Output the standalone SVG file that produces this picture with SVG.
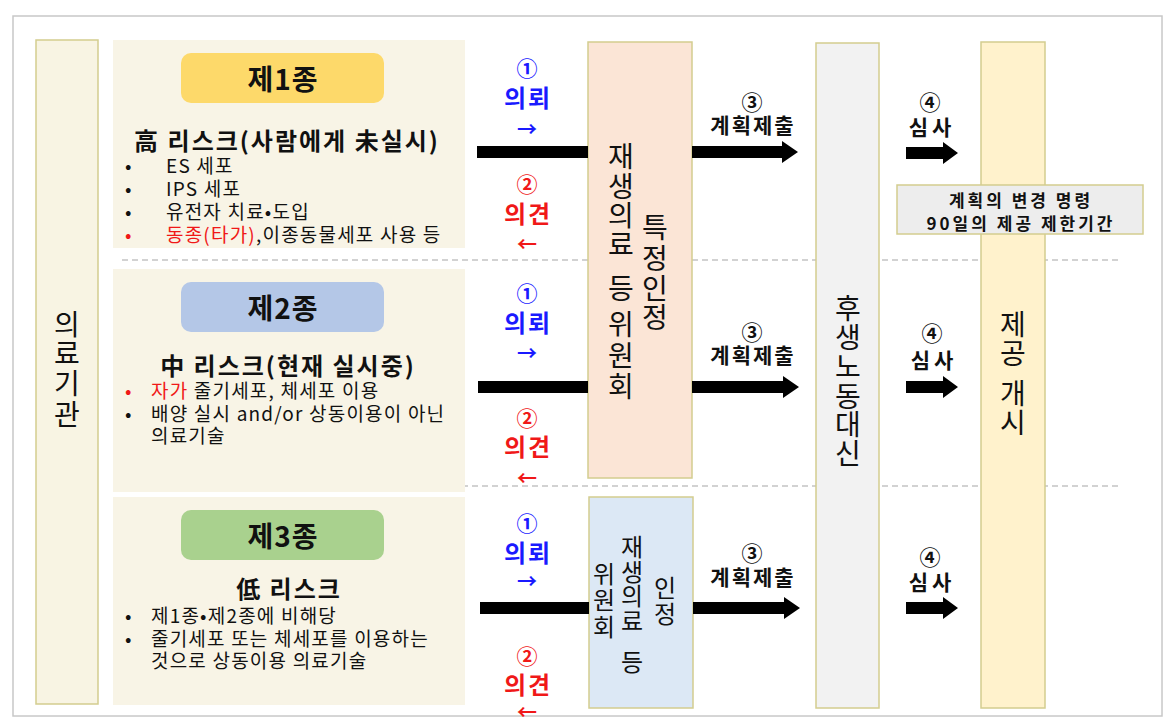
<svg xmlns="http://www.w3.org/2000/svg" width="1170" height="725" viewBox="0 0 1170 725">
<style>
text{font-family:"Noto Sans CJK KR","Noto Sans",sans-serif;fill:#111}
.c{text-anchor:middle;dominant-baseline:central}
.b{font-weight:bold}
.pill{font-size:28px;font-weight:bold;letter-spacing:1px}
.hd{font-size:24px;font-weight:bold;letter-spacing:2px}
.li{font-size:19px;letter-spacing:1.2px}
.vt{font-size:28px;text-anchor:middle;dominant-baseline:central}
.vs{font-size:24px;text-anchor:middle;dominant-baseline:central}
.num{font-size:21px;font-weight:bold}
.lab{font-size:24px;font-weight:bold;letter-spacing:2px}
.lab2{font-size:21px;font-weight:bold;letter-spacing:2px}
.lab3{font-size:21px;font-weight:bold;letter-spacing:4px}
.ar{font-size:20px;font-weight:bold}
.blue{fill:#1a1aff}
.red{fill:#f01818}
.col{stroke:#d3cd8f;stroke-width:1.5}
.pan{fill:#f8f4e6}
.dash{stroke:#c4c4c4;stroke-width:1.5;stroke-dasharray:6 4;fill:none}
.box{font-size:17px;font-weight:bold;letter-spacing:3px}
</style>
<rect x="13" y="16" width="1149" height="700" fill="#fff" stroke="#c8c8c8" stroke-width="1.5"/>

<g id="dividers">
<line class="dash" x1="122" y1="260" x2="1120" y2="260"/>
<line class="dash" x1="122" y1="486" x2="1120" y2="486"/>
</g>

<g id="iryo-kikan">
<rect class="col" x="36" y="40" width="62" height="664" fill="#f8f4e3"/>
<text class="vt"><tspan x="67" y="323">의</tspan><tspan x="67" y="352">료</tspan><tspan x="67" y="382">기</tspan><tspan x="67" y="413">관</tspan></text>
</g>

<g id="class1">
<rect class="pan" x="113" y="40" width="352" height="208"/>
<rect x="181" y="53" width="203" height="50" rx="10" fill="#fdd96a"/>
<text class="pill c" x="283" y="78">제1종</text>
<text class="hd c" x="287" y="139">高 리스크(사람에게 未실시)</text>
<text class="li"><tspan x="125" y="173">•</tspan><tspan x="166" y="173">ES 세포</tspan></text>
<text class="li"><tspan x="125" y="196">•</tspan><tspan x="166" y="196">IPS 세포</tspan></text>
<text class="li"><tspan x="125" y="219">•</tspan><tspan x="166" y="219">유전자 치료•도입</tspan></text>
<text class="li"><tspan x="125" y="242" class="red">•</tspan><tspan x="166" y="242" class="red">동종(타가)</tspan><tspan>,이종동물세포 사용 등</tspan></text>
</g>

<g id="class2">
<rect class="pan" x="113" y="269" width="352" height="223"/>
<rect x="181" y="282" width="203" height="50" rx="10" fill="#b4c7e7"/>
<text class="pill c" x="283" y="307">제2종</text>
<text class="hd c" x="288" y="364">中 리스크(현재 실시중)</text>
<text class="li"><tspan x="125" y="398" class="red">•</tspan><tspan x="151" y="398" class="red">자가</tspan><tspan> 줄기세포, 체세포 이용</tspan></text>
<text class="li"><tspan x="125" y="421">•</tspan><tspan x="151" y="421">배양 실시 and/or 상동이용이 아닌</tspan></text>
<text class="li"><tspan x="151" y="443">의료기술</tspan></text>
</g>

<g id="class3">
<rect class="pan" x="113" y="497" width="352" height="208"/>
<rect x="181" y="510" width="203" height="50" rx="10" fill="#a9d18e"/>
<text class="pill c" x="283" y="535">제3종</text>
<text class="hd c" x="289" y="587">低 리스크</text>
<text class="li"><tspan x="125" y="623">•</tspan><tspan x="151" y="623">제1종•제2종에 비해당</tspan></text>
<text class="li"><tspan x="125" y="646">•</tspan><tspan x="151" y="646">줄기세포 또는 체세포를 이용하는</tspan></text>
<text class="li"><tspan x="151" y="668">것으로 상동이용 의료기술</tspan></text>
</g>

<g id="committee-specific">
<rect class="col" x="588" y="42" width="104" height="436" fill="#fbe5d6"/>
<text class="vt"><tspan x="621" y="155">재</tspan><tspan x="621" y="185">생</tspan><tspan x="621" y="214">의</tspan><tspan x="621" y="243">료</tspan><tspan x="621" y="287">등</tspan><tspan x="621" y="323">위</tspan><tspan x="621" y="354">원</tspan><tspan x="621" y="385">회</tspan></text>
<text class="vt"><tspan x="655" y="226">특</tspan><tspan x="655" y="257">정</tspan><tspan x="655" y="287">인</tspan><tspan x="655" y="316">정</tspan></text>
</g>

<g id="committee-certified">
<rect class="col" x="589" y="497" width="104" height="211" fill="#dce8f5"/>
<text class="vs"><tspan x="632" y="545">재</tspan><tspan x="632" y="570">생</tspan><tspan x="632" y="594">의</tspan><tspan x="632" y="619">료</tspan><tspan x="632" y="660">등</tspan></text>
<text class="vs"><tspan x="604" y="572">위</tspan><tspan x="604" y="598">원</tspan><tspan x="604" y="625">회</tspan></text>
<text class="vs"><tspan x="665" y="586">인</tspan><tspan x="665" y="612">정</tspan></text>
</g>

<g id="mhlw">
<rect class="col" x="816" y="43" width="63" height="665" fill="#f2f2f2"/>
<text class="vt"><tspan x="848" y="307">후</tspan><tspan x="848" y="336">생</tspan><tspan x="848" y="365">노</tspan><tspan x="848" y="395">동</tspan><tspan x="848" y="423">대</tspan><tspan x="848" y="452">신</tspan></text>
</g>

<g id="provision-start">
<rect class="col" x="981" y="42" width="64" height="666" fill="#fff2cc"/>
<text class="vt"><tspan x="1013" y="323">제</tspan><tspan x="1013" y="352">공</tspan><tspan x="1013" y="392">개</tspan><tspan x="1013" y="421">시</tspan></text>
</g>

<g id="change-order">
<rect class="col" x="897" y="185" width="246" height="49" fill="#ededed"/>
<text class="c box" x="1021" y="199">계획의 변경 명령</text>
<text class="c box" x="1021" y="222">90일의 제공 제한기간</text>
</g>

<g id="connectors">
<rect x="477" y="146" width="111" height="12" fill="#000"/>
<rect x="478" y="381" width="110" height="12" fill="#000"/>
<rect x="480" y="602" width="109" height="12" fill="#000"/>
<path d="M692 146H782V141L798 152L782 163V158H692Z" fill="#000"/>
<path d="M692 381H783V376L799 387L783 398V393H692Z" fill="#000"/>
<path d="M693 602H784V597L800 608L784 619V614H693Z" fill="#000"/>
<path d="M906 147H943V142L958 153L943 164V159H906Z" fill="#000"/>
<path d="M906 381H943V376L958 387L943 398V393H906Z" fill="#000"/>
<path d="M906 602H943V597L958 608L943 619V614H906Z" fill="#000"/>
</g>

<g id="labels">
<text class="c num blue" x="527" y="67">①</text>
<text class="c lab blue" x="528" y="96">의뢰</text>
<text class="c ar blue" x="527" y="128">→</text>
<text class="c num red" x="527" y="183">②</text>
<text class="c lab red" x="528" y="212">의견</text>
<text class="c ar red" x="527" y="243">←</text>
<text class="c num" x="752" y="101">③</text>
<text class="c lab2" x="753" y="124">계획제출</text>
<text class="c num" x="930" y="101">④</text>
<text class="c lab3" x="932" y="126">심사</text>

<text class="c num blue" x="527" y="292">①</text>
<text class="c lab blue" x="528" y="321">의뢰</text>
<text class="c ar blue" x="527" y="352">→</text>
<text class="c num red" x="527" y="417">②</text>
<text class="c lab red" x="528" y="445">의견</text>
<text class="c ar red" x="527" y="477">←</text>
<text class="c num" x="752" y="331">③</text>
<text class="c lab2" x="753" y="354">계획제출</text>
<text class="c num" x="932" y="332">④</text>
<text class="c lab3" x="934" y="359">심사</text>

<text class="c num blue" x="527" y="522">①</text>
<text class="c lab blue" x="528" y="551">의뢰</text>
<text class="c ar blue" x="527" y="580">→</text>
<text class="c num red" x="527" y="655">②</text>
<text class="c lab red" x="528" y="683">의견</text>
<text class="c ar red" x="527" y="711">←</text>
<text class="c num" x="752" y="552">③</text>
<text class="c lab2" x="753" y="576">계획제출</text>
<text class="c num" x="930" y="556">④</text>
<text class="c lab3" x="932" y="581">심사</text>
</g>
</svg>
